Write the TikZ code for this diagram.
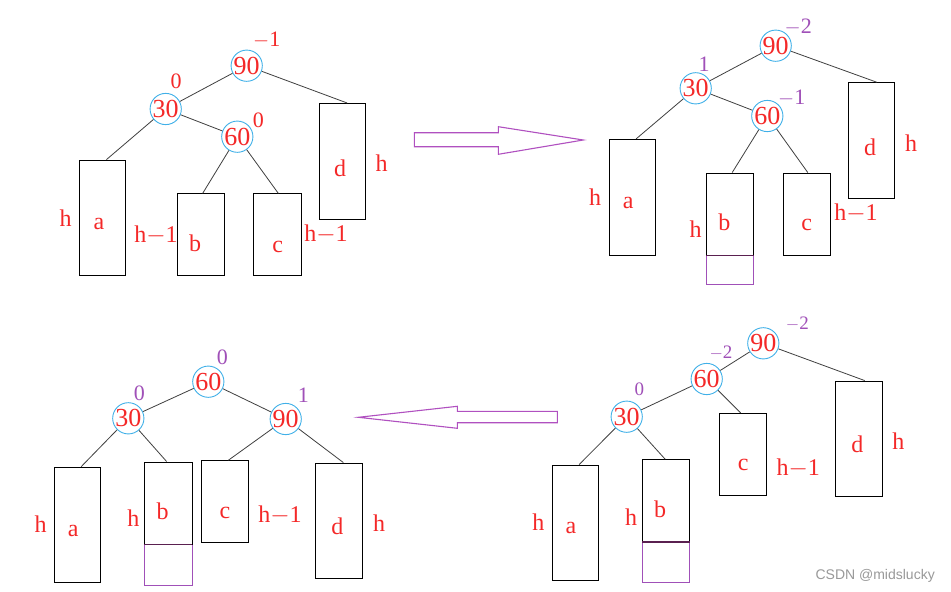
\documentclass[tikz,border=0pt]{standalone}
\usepackage{fontspec}
\setmainfont{Liberation Serif}
\newfontfamily\wmfont{Liberation Sans}
\usetikzlibrary{calc}
\definecolor{lblred}{HTML}{F42828}
\definecolor{bfpurple}{HTML}{A050B8}
\definecolor{circblue}{HTML}{40B0E8}
\definecolor{arrpurple}{HTML}{B050C0}
\definecolor{edgegray}{HTML}{404040}
\definecolor{darkpurple}{HTML}{5A2050}
\tikzset{
  circ/.style={circle, draw=circblue, line width=0.9pt, minimum size=31pt, inner sep=0pt, text=lblred, font=\fontsize{26}{26}\selectfont},
  treebox/.style={draw=black, line width=0.9pt, inner sep=0pt, minimum width=46.5pt},
  tallbox/.style={treebox, minimum height=115.7pt},
  shortbox/.style={treebox, minimum height=82pt},
  extbox/.style={draw=bfpurple, line width=0.9pt, inner sep=0pt, minimum width=47pt},
  lbl/.style={text=lblred, inner sep=0pt, font=\fontsize{24}{24}\selectfont},
  bfred/.style={text=lblred, inner sep=0pt, font=\fontsize{22}{22}\selectfont},
  bfpur/.style={text=bfpurple, inner sep=0pt, font=\fontsize{22}{22}\selectfont},
  bfpursm/.style={text=bfpurple, inner sep=0pt, font=\fontsize{19}{19}\selectfont},
  edge/.style={draw=edgegray, line width=0.8pt},
  bigarrow/.style={draw=arrpurple, line width=1.1pt, line join=miter},
  ledge/.style={draw=darkpurple, line width=1.6pt}
}
\begin{document}
\begin{tikzpicture}[x=1pt,y=-1pt]
\useasboundingbox (0,0) rectangle (951,592);
\fill[white] (0,0) rectangle (951,592);

% ---------- Q1 ----------
\node[tallbox]  (a1) at (102.5,217.85) {};
\node[shortbox, minimum width=47.3pt] (b1) at (200.65,234.85) {};
\node[shortbox, minimum width=47.3pt] (c1) at (277.35,234.85) {};
\node[tallbox, minimum width=46.3pt]  (d1) at (342.15,161.3) {};
\node[circ] (p90) at (246.7,65.7) {90};
\node[circ] (p30) at (165.7,109) {30};
\node[circ] (p60) at (237.3,136.7) {60};
\draw[edge] (p90) -- ($(d1.north)+(5,0)$);
\draw[edge] (p90) -- (p30);
\draw[edge] (p30) -- ($(a1.north)+(4,0)$);
\draw[edge] (p30) -- (p60);
\draw[edge] (p60) -- ($(b1.north)+(2,0)$);
\draw[edge] (p60) -- ($(c1.north)+(1,0)$);
\node[bfred] (q1bf90) at (266.7,40) {$-$1};
\node[bfred] (q1bf30) at (176,81.7) {0};
\node[bfred] (q1bf60) at (258.3,120) {0};
\node[lbl] (q1ha) at (65.7,217.7) {h};
\node[lbl] (q1a) at (99,224.3) {a};
\node[lbl] (q1hb) at (156,235.7) {h$-$1};
\node[lbl] (q1b) at (195,243.3) {b};
\node[lbl] (q1c) at (277.7,246.7) {c};
\node[lbl] (q1hc) at (326,234.3) {h$-$1};
\node[lbl] (q1d) at (340,168.3) {d};
\node[lbl] (q1hd) at (381.7,163.3) {h};

% ---------- arrow right ----------
\draw[bigarrow] (414.3,132.7) -- (498.3,132.7) -- (498.3,126.7) -- (583.3,140) -- (498.3,154.3) -- (498.3,146.7) -- (414.3,146.7) -- cycle;

% ---------- Q2 ----------
\node[tallbox, minimum width=46.3pt] (a2) at (632.15,197.15) {};
\node[extbox, minimum height=29.3pt] (e2) at (730.2,269.65) {};
\node[shortbox, minimum width=47pt] (b2) at (730.2,214) {};
\draw[ledge] (b2.south west) -- (b2.south east);
\node[shortbox, minimum width=47pt] (c2) at (806.8,214) {};
\node[tallbox, minimum width=46pt] (d2) at (871.7,140.5) {};
\node[circ] (r90) at (775.7,45.7) {90};
\node[circ] (r30) at (695.7,88.3) {30};
\node[circ] (r60) at (767.3,116) {60};
\draw[edge] (r90) -- ($(d2.north)+(5,0)$);
\draw[edge] (r90) -- (r30);
\draw[edge] (r30) -- ($(a2.north)+(4,0)$);
\draw[edge] (r30) -- (r60);
\draw[edge] (r60) -- ($(b2.north)+(2,0)$);
\draw[edge] (r60) -- ($(c2.north)+(1,0)$);
\node[bfpur] (q2bf90) at (798.3,26.7) {$-$2};
\node[bfpur] (q2bf30) at (704,64.3) {1};
\node[bfpur] (q2bf60) at (791.7,97.7) {$-$1};
\node[lbl] (q2ha) at (595,197.3) {h};
\node[lbl] (q2a) at (628.3,203.3) {a};
\node[lbl] (q2b) at (724.3,222.3) {b};
\node[lbl] (q2hb) at (695.7,229) {h};
\node[lbl] (q2c) at (806.7,225) {c};
\node[lbl] (q2hc) at (856,213.3) {h$-$1};
\node[lbl] (q2d) at (870,147.7) {d};
\node[lbl] (q2hd) at (911,142.7) {h};

% ---------- Q4 ----------
\node[tallbox, minimum width=46.3pt] (a4) at (575.15,522.85) {};
\node[extbox, minimum height=41pt] (e4) at (666.2,562.2) {};
\node[shortbox, minimum width=47pt] (b4) at (666.2,500.7) {};
\draw[ledge] (b4.south west) -- (b4.south east);
\node[shortbox, minimum width=47.3pt] (c4) at (742.65,454.3) {};
\node[tallbox, minimum width=46.7pt] (d4) at (858.65,438.85) {};
\node[circ] (s90) at (763.3,343.3) {90};
\node[circ] (s60) at (706.7,379) {60};
\node[circ] (s30) at (626.7,416.7) {30};
\draw[edge] (s90) -- (s60);
\draw[edge] (s90) -- ($(d4.north)+(6,0)$);
\draw[edge] (s60) -- (s30);
\draw[edge] (s60) -- ($(c4.north)+(-2,0)$);
\draw[edge] (s30) -- ($(a4.north)+(4,0)$);
\draw[edge] (s30) -- ($(b4.north)+(-1,0)$);
\node[bfpursm] (q4bf90) at (797.3,324) {$-$2};
\node[bfpursm] (q4bf60) at (721,352.7) {$-$2};
\node[bfpursm] (q4bf30) at (639.3,389) {0};
\node[lbl] (q4ha) at (538.3,522.3) {h};
\node[lbl] (q4a) at (571,528.3) {a};
\node[lbl] (q4b) at (660,509.3) {b};
\node[lbl] (q4hb) at (631,516.7) {h};
\node[lbl] (q4c) at (743.3,465) {c};
\node[lbl] (q4hc) at (798.3,468.3) {h$-$1};
\node[lbl] (q4d) at (857.3,444.3) {d};
\node[lbl] (q4hd) at (898.3,440.7) {h};

% ---------- arrow left ----------
\draw[bigarrow] (557.3,411.3) -- (457.3,411.3) -- (457.3,406.3) -- (358.3,417.3) -- (457.3,428.3) -- (457.3,422.7) -- (557.3,422.7) -- cycle;

% ---------- Q3 ----------
\node[tallbox, minimum width=46.3pt] (a3) at (77.15,525) {};
\node[extbox, minimum height=41pt, minimum width=47.7pt] (e3) at (168.15,564.5) {};
\node[shortbox, minimum width=47.7pt] (b3) at (168.15,503) {};
\draw[ledge] (b3.south west) -- (b3.south east);
\node[shortbox, minimum width=47.7pt] (c3) at (224.85,501.7) {};
\node[tallbox, minimum width=46.3pt] (d3) at (338.85,520.85) {};
\node[circ] (t60) at (208.3,381.7) {60};
\node[circ] (t30) at (128.3,418.3) {30};
\node[circ] (t90) at (285.7,419) {90};
\draw[edge] (t60) -- (t30);
\draw[edge] (t60) -- (t90);
\draw[edge] (t30) -- ($(a3.north)+(4,0)$);
\draw[edge] (t30) -- ($(b3.north)+(-1.5,0)$);
\draw[edge] (t90) -- ($(c3.north)+(3.5,0)$);
\draw[edge] (t90) -- ($(d3.north)+(4.5,0)$);
\node[bfpur] (q3bf60) at (222.3,357.3) {0};
\node[bfpur] (q3bf30) at (139.3,393.3) {0};
\node[bfpur] (q3bf90) at (303.3,395) {1};
\node[lbl] (q3ha) at (40.7,524.3) {h};
\node[lbl] (q3a) at (73.3,530.7) {a};
\node[lbl] (q3b) at (162.7,511.7) {b};
\node[lbl] (q3hb) at (133.3,518.3) {h};
\node[lbl] (q3c) at (225,513.3) {c};
\node[lbl] (q3hc) at (280,515.7) {h$-$1};
\node[lbl] (q3d) at (337.3,526.7) {d};
\node[lbl] (q3hd) at (379,522.7) {h};

% watermark
\node[text=black!40, inner sep=0pt, font=\wmfont\fontsize{14}{14}\selectfont, anchor=east] (wm) at (935,576) {CSDN @midslucky};
\end{tikzpicture}
\end{document}
